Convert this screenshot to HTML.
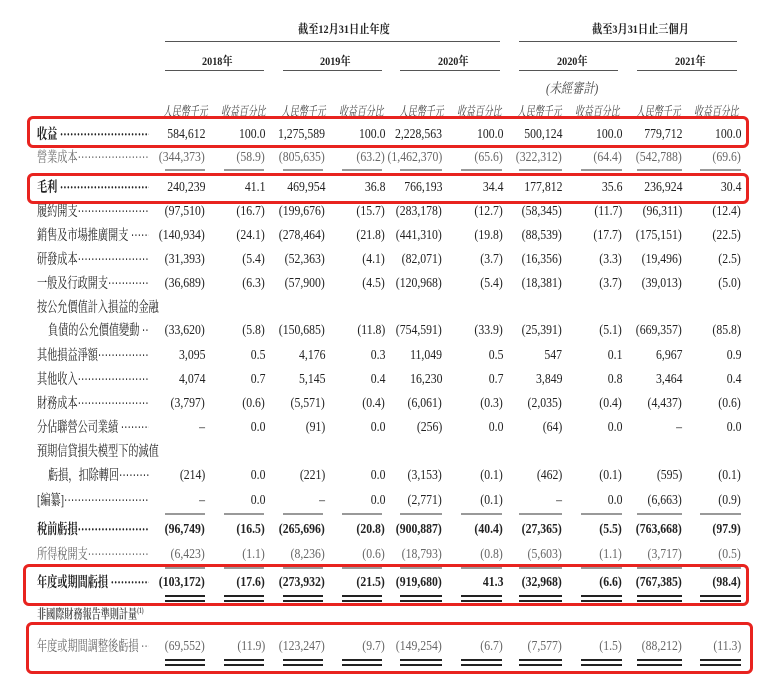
<!DOCTYPE html>
<html><head><meta charset="utf-8"><style>
body{margin:0;width:762px;height:677px;background:#fff;position:relative;overflow:hidden;font-family:"Liberation Serif","Noto Serif CJK SC",serif;color:#222;font-size:14px}
.r{position:absolute;left:0;width:762px;height:18px;line-height:18px}
.r i{position:absolute;font-style:normal;white-space:nowrap;transform:scaleX(0.84);transform-origin:right center}
.l{position:absolute;left:37px;white-space:nowrap;width:160px;overflow:hidden;font-size:14.5px;transform:scaleX(0.7);transform-origin:left center}
.l.in{left:48px;width:145px}
.l.w{width:175px}
.c1{right:557px}.c2{right:497px}.c3{right:437px}.c4{right:377px}.c5{right:320px}.c6{right:259px}.c7{right:200px}.c8{right:140px}.c9{right:80px}.c10{right:21px}
.b{font-weight:bold}
.g{color:#666}
.hl{position:absolute;height:1px;background:#555}
.box{position:absolute;border:3px solid #e8231f;border-radius:6px;box-sizing:border-box}
.h{position:absolute;font-size:12px;font-weight:bold;white-space:nowrap;transform:scaleX(0.85);transform-origin:left center}
.u{position:absolute;font-size:13.5px;font-style:italic;color:#444;white-space:nowrap;transform:scaleX(0.66);transform-origin:left center}
</style></head><body>
<div class="h" style="left:298px;top:20px">截至12月31日止年度</div>
<div class="h" style="left:592px;top:20px">截至3月31日止三個月</div>
<div class="hl" style="left:165px;width:335px;top:41px"></div>
<div class="hl" style="left:519px;width:218px;top:41px"></div>
<div class="h" style="left:202px;top:52px">2018年</div>
<div class="h" style="left:320px;top:52px">2019年</div>
<div class="h" style="left:438px;top:52px">2020年</div>
<div class="h" style="left:557px;top:52px">2020年</div>
<div class="h" style="left:675px;top:52px">2021年</div>
<div class="hl" style="left:165px;width:99px;top:70px"></div>
<div class="hl" style="left:283px;width:99px;top:70px"></div>
<div class="hl" style="left:400px;width:100px;top:70px"></div>
<div class="hl" style="left:519px;width:99px;top:70px"></div>
<div class="hl" style="left:637px;width:100px;top:70px"></div>
<div class="u" style="left:546px;top:78px;font-size:14px;transform:scaleX(0.8)">(未經審計)</div>
<div class="u" style="left:163px;top:100px">人民幣千元</div>
<div class="u" style="left:221px;top:100px">收益百分比</div>
<div class="u" style="left:281px;top:100px">人民幣千元</div>
<div class="u" style="left:339px;top:100px">收益百分比</div>
<div class="u" style="left:399px;top:100px">人民幣千元</div>
<div class="u" style="left:457px;top:100px">收益百分比</div>
<div class="u" style="left:517px;top:100px">人民幣千元</div>
<div class="u" style="left:575px;top:100px">收益百分比</div>
<div class="u" style="left:636px;top:100px">人民幣千元</div>
<div class="u" style="left:694px;top:100px">收益百分比</div>

<div class="r" style="top:126px"><span class="l b">收益 ·······································</span><i class="c1">584,612</i><i class="c2">100.0</i><i class="c3">1,275,589</i><i class="c4">100.0</i><i class="c5">2,228,563</i><i class="c6">100.0</i><i class="c7">500,124</i><i class="c8">100.0</i><i class="c9">779,712</i><i class="c10">100.0</i></div>
<div class="r g" style="top:149px"><span class="l">營業成本··································</span><i class="c1">(344,373)</i><i class="c2">(58.9)</i><i class="c3">(805,635)</i><i class="c4">(63.2)</i><i class="c5">(1,462,370)</i><i class="c6">(65.6)</i><i class="c7">(322,312)</i><i class="c8">(64.4)</i><i class="c9">(542,788)</i><i class="c10">(69.6)</i></div>
<div class="r" style="top:179px"><span class="l b">毛利 ·······································</span><i class="c1">240,239</i><i class="c2">41.1</i><i class="c3">469,954</i><i class="c4">36.8</i><i class="c5">766,193</i><i class="c6">34.4</i><i class="c7">177,812</i><i class="c8">35.6</i><i class="c9">236,924</i><i class="c10">30.4</i></div>
<div class="r" style="top:203px"><span class="l">履約開支··································</span><i class="c1">(97,510)</i><i class="c2">(16.7)</i><i class="c3">(199,676)</i><i class="c4">(15.7)</i><i class="c5">(283,178)</i><i class="c6">(12.7)</i><i class="c7">(58,345)</i><i class="c8">(11.7)</i><i class="c9">(96,311)</i><i class="c10">(12.4)</i></div>
<div class="r" style="top:227px"><span class="l">銷售及市場推廣開支 ·····················</span><i class="c1">(140,934)</i><i class="c2">(24.1)</i><i class="c3">(278,464)</i><i class="c4">(21.8)</i><i class="c5">(441,310)</i><i class="c6">(19.8)</i><i class="c7">(88,539)</i><i class="c8">(17.7)</i><i class="c9">(175,151)</i><i class="c10">(22.5)</i></div>
<div class="r" style="top:251px"><span class="l">研發成本··································</span><i class="c1">(31,393)</i><i class="c2">(5.4)</i><i class="c3">(52,363)</i><i class="c4">(4.1)</i><i class="c5">(82,071)</i><i class="c6">(3.7)</i><i class="c7">(16,356)</i><i class="c8">(3.3)</i><i class="c9">(19,496)</i><i class="c10">(2.5)</i></div>
<div class="r" style="top:275px"><span class="l">一般及行政開支····························</span><i class="c1">(36,689)</i><i class="c2">(6.3)</i><i class="c3">(57,900)</i><i class="c4">(4.5)</i><i class="c5">(120,968)</i><i class="c6">(5.4)</i><i class="c7">(18,381)</i><i class="c8">(3.7)</i><i class="c9">(39,013)</i><i class="c10">(5.0)</i></div>
<div class="r" style="top:299px"><span class="l w">按公允價值計入損益的金融</span></div>
<div class="r" style="top:322px"><span class="l in">負債的公允價值變動 ···············</span><i class="c1">(33,620)</i><i class="c2">(5.8)</i><i class="c3">(150,685)</i><i class="c4">(11.8)</i><i class="c5">(754,591)</i><i class="c6">(33.9)</i><i class="c7">(25,391)</i><i class="c8">(5.1)</i><i class="c9">(669,357)</i><i class="c10">(85.8)</i></div>
<div class="r" style="top:347px"><span class="l">其他損益淨額······························</span><i class="c1">3,095</i><i class="c2">0.5</i><i class="c3">4,176</i><i class="c4">0.3</i><i class="c5">11,049</i><i class="c6">0.5</i><i class="c7">547</i><i class="c8">0.1</i><i class="c9">6,967</i><i class="c10">0.9</i></div>
<div class="r" style="top:371px"><span class="l">其他收入··································</span><i class="c1">4,074</i><i class="c2">0.7</i><i class="c3">5,145</i><i class="c4">0.4</i><i class="c5">16,230</i><i class="c6">0.7</i><i class="c7">3,849</i><i class="c8">0.8</i><i class="c9">3,464</i><i class="c10">0.4</i></div>
<div class="r" style="top:395px"><span class="l">財務成本··································</span><i class="c1">(3,797)</i><i class="c2">(0.6)</i><i class="c3">(5,571)</i><i class="c4">(0.4)</i><i class="c5">(6,061)</i><i class="c6">(0.3)</i><i class="c7">(2,035)</i><i class="c8">(0.4)</i><i class="c9">(4,437)</i><i class="c10">(0.6)</i></div>
<div class="r" style="top:419px"><span class="l">分佔聯營公司業績 ·······················</span><i class="c1">–</i><i class="c2">0.0</i><i class="c3">(91)</i><i class="c4">0.0</i><i class="c5">(256)</i><i class="c6">0.0</i><i class="c7">(64)</i><i class="c8">0.0</i><i class="c9">–</i><i class="c10">0.0</i></div>
<div class="r" style="top:443px"><span class="l w">預期信貸損失模型下的減值</span></div>
<div class="r" style="top:467px"><span class="l in">虧損，扣除轉回························</span><i class="c1">(214)</i><i class="c2">0.0</i><i class="c3">(221)</i><i class="c4">0.0</i><i class="c5">(3,153)</i><i class="c6">(0.1)</i><i class="c7">(462)</i><i class="c8">(0.1)</i><i class="c9">(595)</i><i class="c10">(0.1)</i></div>
<div class="r" style="top:492px"><span class="l">[編纂]·····································</span><i class="c1">–</i><i class="c2">0.0</i><i class="c3">–</i><i class="c4">0.0</i><i class="c5">(2,771)</i><i class="c6">(0.1)</i><i class="c7">–</i><i class="c8">0.0</i><i class="c9">(6,663)</i><i class="c10">(0.9)</i></div>
<div class="r b" style="top:521px"><span class="l">稅前虧損··································</span><i class="c1">(96,749)</i><i class="c2">(16.5)</i><i class="c3">(265,696)</i><i class="c4">(20.8)</i><i class="c5">(900,887)</i><i class="c6">(40.4)</i><i class="c7">(27,365)</i><i class="c8">(5.5)</i><i class="c9">(763,668)</i><i class="c10">(97.9)</i></div>
<div class="r g" style="top:546px"><span class="l">所得稅開支································</span><i class="c1">(6,423)</i><i class="c2">(1.1)</i><i class="c3">(8,236)</i><i class="c4">(0.6)</i><i class="c5">(18,793)</i><i class="c6">(0.8)</i><i class="c7">(5,603)</i><i class="c8">(1.1)</i><i class="c9">(3,717)</i><i class="c10">(0.5)</i></div>
<div class="r b" style="top:574px"><span class="l">年度或期間虧損 ························</span><i class="c1">(103,172)</i><i class="c2">(17.6)</i><i class="c3">(273,932)</i><i class="c4">(21.5)</i><i class="c5">(919,680)</i><i class="c6">41.3</i><i class="c7">(32,968)</i><i class="c8">(6.6)</i><i class="c9">(767,385)</i><i class="c10">(98.4)</i></div>
<div class="r b" style="top:602px;color:#555"><span class="l w" style="font-size:13px">非國際財務報告準則計量<sup style="font-size:8px">(1)</sup></span></div>
<div class="r g" style="top:638px"><span class="l">年度或期間調整後虧損 ····················</span><i class="c1">(69,552)</i><i class="c2">(11.9)</i><i class="c3">(123,247)</i><i class="c4">(9.7)</i><i class="c5">(149,254)</i><i class="c6">(6.7)</i><i class="c7">(7,577)</i><i class="c8">(1.5)</i><i class="c9">(88,212)</i><i class="c10">(11.3)</i></div>

<svg style="position:absolute;left:0;top:0" width="762" height="677">
<g stroke="#333" stroke-width="1">
<path d="M165 170H205M224 170H264M283 170H323M342 170H382M400 170H442M461 170H502M519 170H562M581 170H622M637 170H682M700 170H741"/>
<path d="M165 514H205M224 514H264M283 514H323M342 514H382M400 514H442M461 514H502M519 514H562M581 514H622M637 514H682M700 514H741"/>
<path d="M165 568H205M224 568H264M283 568H323M342 568H382M400 568H442M461 568H502M519 568H562M581 568H622M637 568H682M700 568H741"/>
</g>
<g stroke="#222" stroke-width="2">
<path d="M165 596H205M224 596H264M283 596H323M342 596H382M400 596H442M461 596H502M519 596H562M581 596H622M637 596H682M700 596H741"/>
<path d="M165 601H205M224 601H264M283 601H323M342 601H382M400 601H442M461 601H502M519 601H562M581 601H622M637 601H682M700 601H741"/>
<path d="M165 660H205M224 660H264M283 660H323M342 660H382M400 660H442M461 660H502M519 660H562M581 660H622M637 660H682M700 660H741"/>
<path d="M165 665H205M224 665H264M283 665H323M342 665H382M400 665H442M461 665H502M519 665H562M581 665H622M637 665H682M700 665H741"/>
</g>
</svg>
<div class="box" style="left:27px;top:116px;width:722px;height:32px"></div>
<div class="box" style="left:27px;top:173px;width:722px;height:31px"></div>
<div class="box" style="left:23px;top:564px;width:726px;height:42px"></div>
<div class="box" style="left:26px;top:622px;width:727px;height:52px"></div>
</body></html>
